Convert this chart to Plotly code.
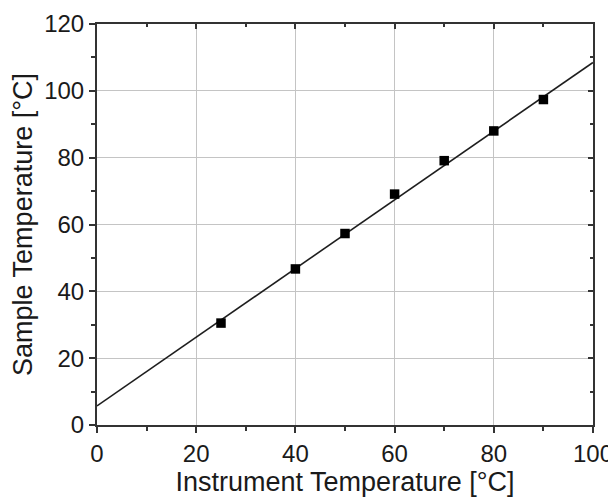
import plotly.graph_objects as go

instrument_temp = [25, 40, 50, 60, 70, 80, 90]
sample_temp = [30.5, 46.7, 57.3, 69.1, 79.1, 88.0, 97.4]
fit_x = [0, 100]
fit_y = [5.7, 108.5]

x_ticks = [0, 20, 40, 60, 80, 100]
y_ticks = [0, 20, 40, 60, 80, 100, 120]

fig = go.Figure()
fig.add_trace(go.Scatter(x=fit_x, y=fit_y, mode="lines",
                         line=dict(color="#1e1e1e", width=1.6), showlegend=False))
fig.add_trace(go.Scatter(x=instrument_temp, y=sample_temp, mode="markers",
                         marker=dict(symbol="square", size=9.5, color="black"),
                         showlegend=False))

font = dict(family="Liberation Sans, Arial, sans-serif", size=27, color="#1a1a1a")
tickfont = dict(family="Liberation Sans, Arial, sans-serif", size=24, color="#1a1a1a")

common = dict(showline=True, linecolor="#333333", linewidth=2,
              showgrid=True, gridcolor="#c4c4c4", gridwidth=1, zeroline=False,
              automargin=False, tickfont=tickfont)

# page body has an 8px default margin; figure sized so it fills the 616x497 window
fig.update_layout(
    width=608, height=489,
    margin=dict(l=89, r=23, t=16, b=72, autoexpand=False),
    paper_bgcolor="white", plot_bgcolor="white",
    font=font,
    xaxis=dict(range=[0, 100], tickvals=x_ticks, ticks="outside", ticklen=6,
               tickwidth=2, tickcolor="#333333",
               minor=dict(dtick=10, ticks="outside", ticklen=4, tickwidth=2, tickcolor="#333333", showgrid=False),
               title=dict(text="Instrument Temperature [°C]", standoff=3, font=font),
               **common),
    yaxis=dict(range=[0, 120], tickvals=y_ticks, ticks="outside", ticklen=6,
               tickwidth=2, tickcolor="#333333",
               minor=dict(dtick=10, ticks="outside", ticklen=4, tickwidth=2, tickcolor="#333333", showgrid=False),
               title=dict(text="Sample Temperature [°C]", standoff=10, font=font),
               **common),
    xaxis2=dict(range=[0, 100], overlaying="x", side="top", anchor="y",
                tickvals=x_ticks, ticks="inside", ticklen=5, tickwidth=2, tickcolor="#333333",
                minor=dict(dtick=10, ticks="inside", ticklen=3, tickwidth=2, tickcolor="#333333"),
                showticklabels=False, showgrid=False, showline=True,
                linecolor="#333333", linewidth=2, zeroline=False, automargin=False),
    yaxis2=dict(range=[0, 120], overlaying="y", side="right", anchor="x",
                tickvals=y_ticks, ticks="inside", ticklen=5, tickwidth=2, tickcolor="#333333",
                minor=dict(dtick=10, ticks="inside", ticklen=3, tickwidth=2, tickcolor="#333333"),
                showticklabels=False, showgrid=False, showline=True,
                linecolor="#333333", linewidth=2, zeroline=False, automargin=False),
)
fig.add_trace(go.Scatter(x=[None], y=[None], xaxis="x2", yaxis="y2", showlegend=False, hoverinfo="skip"))

fig.write_html("out.html")
